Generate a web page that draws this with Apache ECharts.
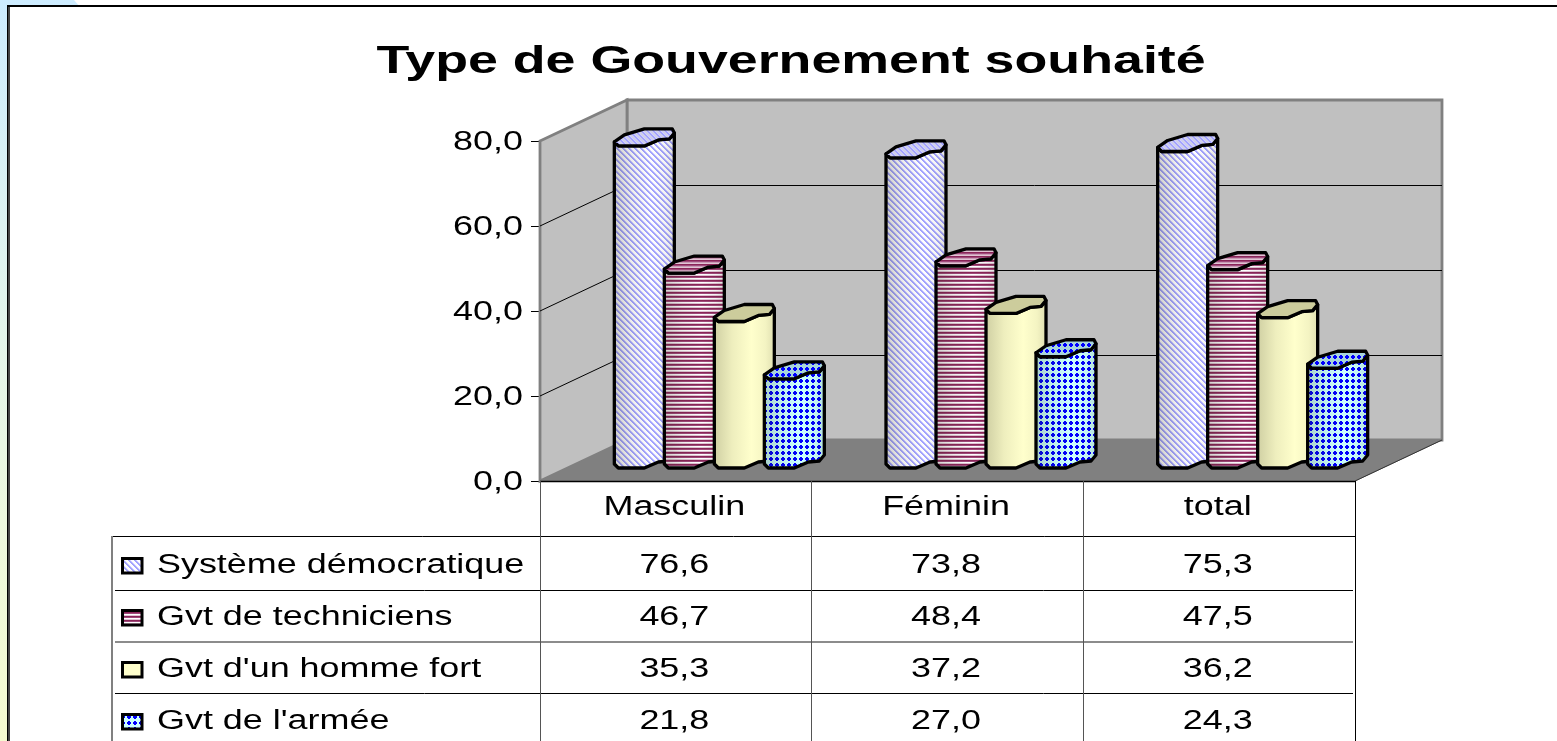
<!DOCTYPE html>
<html><head><meta charset="utf-8">
<style>html,body{margin:0;padding:0;background:#fff}#c{width:1557px;height:741px}</style>
<script src="https://cdn.jsdelivr.net/npm/echarts@6/dist/echarts.min.js"></script>
</head><body><div id="c"></div>
<script>
const chartTitle = 'Type de Gouvernement souhaité';
const categories = ['Masculin', 'Féminin', 'total'];
const seriesNames = ['Système démocratique', 'Gvt de techniciens', "Gvt d'un homme fort", "Gvt de l'armée"];
const democratique = [76.6, 73.8, 75.3];
const techniciens = [46.7, 48.4, 47.5];
const hommeFort = [35.3, 37.2, 36.2];
const armee = [21.8, 27.0, 24.3];
const tickValues = [0, 20, 40, 60, 80];
const tickLabels = ['0,0', '20,0', '40,0', '60,0', '80,0'];
const allValues = [democratique, techniciens, hommeFort, armee];

const FONT = '"Liberation Sans", Arial, sans-serif';
const SIZE = 27, WIDE = 1.33;
const DX = 87, DY = 41;
const BAR_PITCH = 50, BAR_START = -61.5, BASE_LIFT = 17, TOP_LIFT = 13.5;
const ROW_Y = [564, 616, 668, 720];
const ROW_LINES = [590, 642, 693];
const HEAD_Y = 506, TABLE_TOP = 536, TEXT_DROP = 2;

function makeTile(w, h, bg, paint) {
  const c = document.createElement('canvas'); c.width = w; c.height = h;
  const g = c.getContext('2d');
  if (bg) { g.fillStyle = bg; g.fillRect(0, 0, w, h); }
  paint(g);
  return { image: c, repeat: 'repeat' };
}
const px = (g, col, x, y, w, h) => { g.fillStyle = col; g.fillRect(x, y, w || 1, h || 1); };
function diag(bg) {
  return makeTile(6, 6, bg, g => {
    for (let y = 0; y < 6; y++) for (let x = 0; x < 6; x++) {
      const k = (x - y + 12) % 6;
      if (k < 2) px(g, '#a3a3ff', x, y);
      else if (k === 2) px(g, '#d0d0ff', x, y);
    }
  });
}
function rows(bg) {
  return makeTile(4, 4, bg, g => {
    px(g, '#8a2558', 0, 0, 4, 1); px(g, '#a04a7c', 0, 1, 4, 1); px(g, '#e0c4d4', 0, 3, 4, 1);
  });
}
function dots(bg) {
  return makeTile(6, 6, bg, g => {
    px(g, '#0000ff', 1, 2, 4, 2); px(g, '#0000ff', 2, 1, 2, 4);
  });
}
const looks = [
  { side: diag('#ffffff'), top: diag('#cfcfec') },
  { side: rows('#ffffff'), top: rows('#c89ab4') },
  { side: '#ffffcc', top: '#cccc9c' },
  { side: dots('#ccffff'), top: dots('#a8d4dc') }
];
const shade = { type: 'linear', x: 0, y: 0, x2: 1, y2: 0, colorStops: [
  { offset: 0, color: 'rgba(40,40,20,0.22)' }, { offset: 0.3, color: 'rgba(40,40,20,0.08)' },
  { offset: 0.62, color: 'rgba(40,40,20,0)' }, { offset: 0.85, color: 'rgba(40,40,20,0.05)' },
  { offset: 1, color: 'rgba(40,40,20,0.14)' }] };

// footprint of the faceted column, clockwise from its left end
const ringBack = [[0, 0], [10, -7], [30, -13], [58, -13], [60, -9]];
const ringFront = [[60, -9], [55, -3], [44, -2], [30, 4], [4, 4], [0, 0]];
const STROKE = 3.3;

function barItem(seriesIdx) {
  return function (params, api) {
    const cat = api.value(0);
    const cx = api.coord([cat, 0])[0];
    const zero = api.coord([cat, 0])[1];
    const topC = api.coord([cat, api.value(1)])[1];
    const x0 = cx + BAR_START + seriesIdx * BAR_PITCH;
    const yB = zero - BASE_LIFT;
    const yT = topC - TOP_LIFT;
    const at = (p, y) => [x0 + p[0], y + p[1]];
    const topRing = ringBack.concat(ringFront.slice(1, 5)).map(p => at(p, yT));
    const outline = ringFront.slice().reverse().map(p => at(p, yT))
      .concat(ringFront.map(p => at(p, yB)));
    const look = looks[seriesIdx];
    const poly = (points, style) => ({ type: 'polygon', shape: { points }, style });
    return { type: 'group', children: [
      poly(outline, { fill: '#ffffff' }),
      poly(outline, { fill: look.side }),
      poly(outline, { fill: shade }),
      poly(outline, { fill: 'none', stroke: '#000', lineWidth: STROKE, lineJoin: 'round' }),
      poly(topRing, { fill: look.top }),
      poly(topRing, { fill: 'none', stroke: '#000', lineWidth: STROKE, lineJoin: 'round' })
    ] };
  };
}

function wideText(text, x, y, align) {
  return { type: 'text', x, y: y + TEXT_DROP, scaleX: WIDE,
    style: { text, x: 0, y: 0, align: align, verticalAlign: 'middle', fill: '#000',
      fontFamily: FONT, fontSize: SIZE } };
}

const fmt = v => v.toFixed(1).replace('.', ',');

const customSeries = [
  { // walls and floor
    type: 'custom', coordinateSystem: 'cartesian2d', silent: true, z: 1, clip: false,
    data: [[0, 0]],
    renderItem(params, api) {
      const r = params.coordSys;
      const L = r.x, R = r.x + r.width, T = r.y, B = r.y + r.height;
      return { type: 'group', children: [
        { type: 'polygon', shape: { points: [[L + DX, T - DY], [R + DX, T - DY], [R + DX, B - DY], [L + DX, B - DY]] },
          style: { fill: '#c0c0c0', stroke: '#808080', lineWidth: 2.8 } },
        { type: 'polygon', shape: { points: [[L, T], [L + DX, T - DY], [L + DX, B - DY], [L, B]] },
          style: { fill: '#c0c0c0', stroke: '#808080', lineWidth: 2.8 } },
        { type: 'polygon', shape: { points: [[L, B], [L + DX, B - DY], [R + DX, B - DY], [R, B]] },
          style: { fill: '#808080', stroke: '#808080', lineWidth: 1 } },
        { type: 'line', shape: { x1: R, y1: B, x2: R + DX, y2: B - DY }, style: { stroke: '#333', lineWidth: 1 } }
      ] };
    }
  },
  { // gridlines on the two walls, tick labels
    type: 'custom', coordinateSystem: 'cartesian2d', silent: true, z: 1, clip: false,
    data: tickValues.map(v => [0, v]),
    renderItem(params, api) {
      const r = params.coordSys;
      const y = api.coord([0, api.value(1)])[1];
      const v = api.value(1), kids = [];
      if (v > 0 && v < 80) {
        kids.push({ type: 'line', shape: { x1: r.x, y1: y, x2: r.x + DX, y2: y - DY }, style: { stroke: '#000', lineWidth: 1 } });
        kids.push({ type: 'line', shape: { x1: r.x + DX, y1: y - DY + 0.5, x2: r.x + r.width + DX, y2: y - DY + 0.5 }, style: { stroke: '#000', lineWidth: 1 } });
      }
      kids.push(wideText(tickLabels[params.dataIndex], r.x - 17, y, 'right'));
      return { type: 'group', children: kids };
    }
  }
].concat(allValues.map((vals, s) => ({
  type: 'custom', name: seriesNames[s], coordinateSystem: 'cartesian2d', z: 3, clip: false,
  encode: { x: 0, y: 1 },
  data: vals.map((v, i) => [i, v]),
  renderItem: barItem(s)
}))).concat([
  { // data table: header and values beneath each category
    type: 'custom', coordinateSystem: 'cartesian2d', silent: true, z: 4, clip: false,
    data: categories.map((c, i) => [i, 0]),
    renderItem(params, api) {
      const i = api.value(0);
      const cx = api.coord([i, 0])[0] - 1.5;
      const kids = [wideText(categories[i], cx, HEAD_Y, 'center')];
      allValues.forEach((vals, s) => kids.push(wideText(fmt(vals[i]), cx, ROW_Y[s], 'center')));
      return { type: 'group', children: kids };
    }
  },
  { // table rules and series keys
    type: 'custom', coordinateSystem: 'cartesian2d', silent: true, z: 4, clip: false,
    data: [[0, 0]],
    renderItem(params, api) {
      const r = params.coordSys;
      const B = r.y + r.height, R = r.x + r.width, step = r.width / categories.length;
      const line = (x1, y1, x2, y2, stroke, lineWidth) => ({ type: 'line', shape: { x1, y1, x2, y2 }, style: { stroke, lineWidth } });
      const kids = [line(r.x, B + 0.5, R, B + 0.5, '#000', 1.4), line(112, TABLE_TOP + 0.5, R, TABLE_TOP + 0.5, '#000', 1)];
      ROW_LINES.forEach((y, k) => kids.push(k === 1 ? line(115, y, R - 2, y, '#666', 1.6) : line(115, y + 0.5, R - 2, y + 0.5, '#000', 1)));
      for (let k = 0; k <= categories.length; k++) {
        const x = Math.floor(r.x + k * step) + 0.5;
        kids.push(line(x, B, x, 741, k === 0 ? '#555' : (k === categories.length ? '#000' : '#555'), 1));
      }
      kids.push(line(112, TABLE_TOP, 112, 741, '#808080', 2));
      seriesNames.forEach((n, s) => {
        const y = ROW_Y[s];
        kids.push({ type: 'rect', shape: { x: 122.5, y: y - 5.5, width: 19.5, height: 14.5 }, style: { fill: '#fff' } });
        kids.push({ type: 'rect', shape: { x: 122.5, y: y - 5.5, width: 19.5, height: 14.5 }, style: { fill: looks[s].side, stroke: '#000', lineWidth: 3 } });
        kids.push(wideText(n, 157, y, 'left'));
      });
      return { type: 'group', children: kids };
    }
  }
]);

const chart = echarts.init(document.getElementById('c'), null, { renderer: 'canvas' });
chart.setOption({
  animation: false,
  backgroundColor: { type: 'linear', x: 0, y: 0, x2: 0, y2: 1, colorStops: [
    { offset: 0, color: '#cdecff' }, { offset: 0.5, color: '#e6f6e8' }, { offset: 1, color: '#f5fbcf' }] },
  grid: { left: 540, right: 202, top: 141, bottom: 260, containLabel: false },
  xAxis: { type: 'category', data: categories, axisLine: { show: false }, axisTick: { show: false }, axisLabel: { show: false } },
  yAxis: { type: 'value', min: 0, max: 80, interval: 20,
    axisLine: { show: false },
    axisTick: { show: true, length: 9, lineStyle: { color: '#000', width: 1 } },
    axisLabel: { show: false }, splitLine: { show: false } },
  graphic: { elements: [
    { type: 'polygon', z: -5, silent: true, shape: { points: [[74, 0], [1557, 0], [1557, 7], [80, 7]] }, style: { fill: '#fff' } },
    { type: 'rect', z: -5, silent: true, shape: { x: 8, y: 6, width: 1560, height: 760 },
      style: { fill: '#fff', stroke: '#000', lineWidth: 2 } },
    { type: 'line', z: -4, silent: true, shape: { x1: 9, y1: 7, x2: 9, y2: 741 }, style: { stroke: '#444', lineWidth: 2 } },
    { type: 'text', z: 10, silent: true, x: 791, y: 62, scaleX: 1.378,
      style: { text: chartTitle, x: 0, y: 0, align: 'center', verticalAlign: 'middle', fill: '#000',
        fontFamily: FONT, fontSize: 39, fontWeight: 'bold' } }
  ] },
  series: customSeries
});
</script></body></html>
